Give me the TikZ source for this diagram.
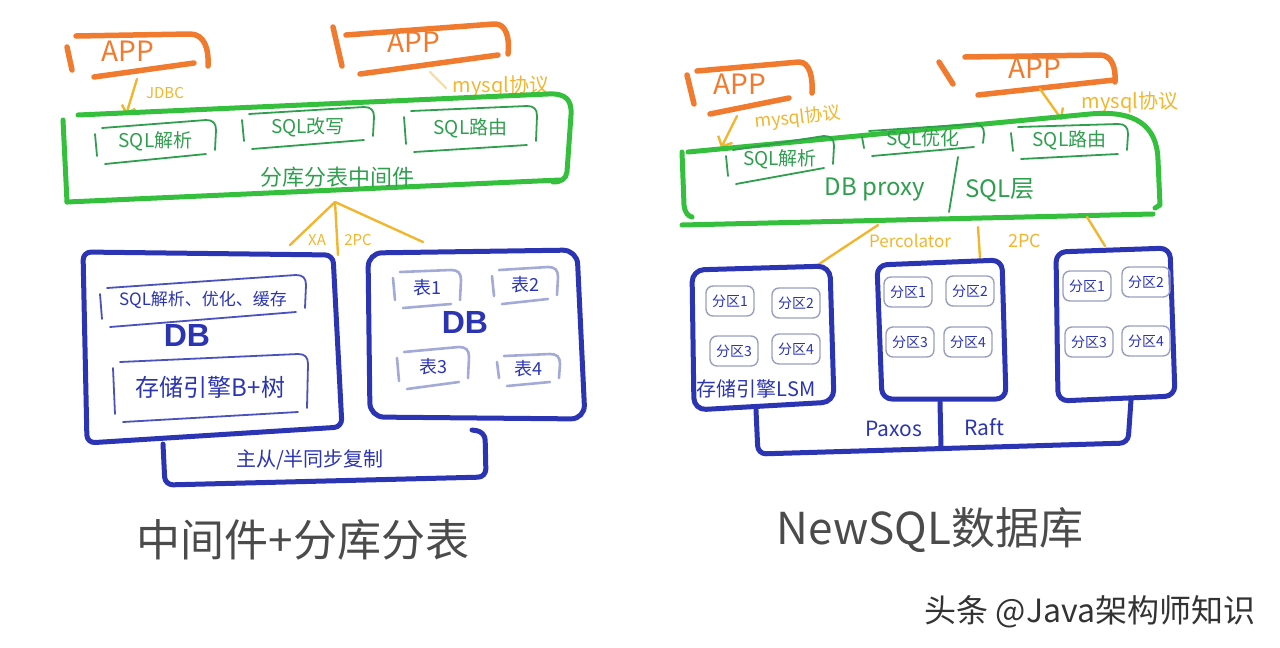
\documentclass[tikz,border=0pt]{standalone}
\usepackage{fontspec}
\setmainfont{Noto Sans CJK SC}
\newfontfamily\latinfont{Liberation Sans}
\usetikzlibrary{arrows.meta}

\definecolor{appcol}{HTML}{F07A2E}
\definecolor{midcol}{HTML}{34C03C}
\definecolor{subcol}{HTML}{2F9E4E}
\definecolor{dbcol}{HTML}{2B34B2}
\definecolor{tabcol}{HTML}{A3AAD8}
\definecolor{linkcol}{HTML}{F2B52E}
\definecolor{titlecol}{HTML}{4B4B4B}

\tikzset{
  appline/.style={draw=appcol, line width=5.5pt},
  applab/.style={text=appcol, font=\fontsize{28}{30}\selectfont},
  midline/.style={draw=midcol, line width=5pt},
  subline/.style={draw=subcol, line width=1.8pt},
  sublab/.style={text=subcol, inner sep=0pt},
  dbline/.style={draw=dbcol, line width=5pt},
  innline/.style={draw=dbcol!85, line width=1.8pt},
  tabline/.style={draw=tabcol, line width=2.6pt},
  dblab/.style={text=dbcol, inner sep=0pt},
  dbbig/.style={text=dbcol, font=\fontsize{32}{34}\latinfont\bfseries\selectfont},
  link/.style={draw=linkcol, line width=2.4pt},
  linklab/.style={text=linkcol, inner sep=0pt},
  part/.style={draw=tabcol!75!gray, line width=1.4pt, rounded corners=7pt,
    minimum width=48pt, minimum height=30pt, inner sep=0pt, text=dbcol,
    font=\fontsize{14}{16}\selectfont},
  caption/.style={text=titlecol, font=\fontsize{44}{48}\selectfont},
}

\begin{document}
\begin{tikzpicture}[x=1pt, y=-1pt, line cap=round, line join=round]

  % ── 画布 1280×648 ──
  \path[use as bounding box] (0,0) rectangle (1280,648);

  % ── 四个 APP：左竖笔 / 上沿带卷边 / 下沿 ──
  \draw[appline] (67,47) -- (72,70);
  \draw[appline] (76,36) -- (190,34) .. controls (204,34) and (209,48) .. (208,66);
  \draw[appline] (94,77) -- (194,63);
  \node[applab] (app1) at (128,51) {APP};

  \draw[appline] (333,27) -- (342,66);
  \draw[appline] (346,35) -- (494,24) .. controls (506,23) and (510,38) .. (508,54);
  \draw[appline] (360,74) -- (498,55);
  \node[applab] (app2) at (414,42) {APP};

  \draw[appline] (687,75) -- (694,104);
  \draw[appline] (697,71) -- (799,62) .. controls (810,62) and (813,78) .. (812,93);
  \draw[appline] (710,114) -- (789,98);
  \node[applab] (app3) at (740,84) {APP};

  \draw[appline] (939,62) -- (953,84);
  \draw[appline] (965,57) -- (1100,55) .. controls (1112,55) and (1116,68) .. (1115,82);
  \draw[appline] (978,95) -- (1114,80);
  \node[applab] (app4) at (1035,68) {APP};

  % ── APP 到中间层的调用 ──
  \coordinate (a1s) at (137,79);  \coordinate (a1e) at (126,115);
  \coordinate (a2s) at (430,72);  \coordinate (a2e) at (446,88);
  \coordinate (a3s) at (737,116); \coordinate (a3e) at (721,148);
  \coordinate (a4s) at (1040,89); \coordinate (a4e) at (1062,120);
  \draw[link, -{Straight Barb[length=7pt]}] (a1s) -- (a1e);
  \draw[link, opacity=.45] (a2s) -- (a2e);
  \draw[link, -{Straight Barb[length=8pt]}] (a3s) -- (a3e);
  \draw[link, -{Straight Barb[length=8pt]}] (a4s) -- (a4e);
  \node[linklab, font=\fontsize{15}{17}\selectfont] (jdbc) at (165,93) {JDBC};
  \node[linklab, font=\fontsize{20}{22}\selectfont] (proto2) at (501,86) {mysql协议};
  \node[linklab, font=\fontsize{18}{20}\selectfont, rotate=6] (proto3) at (798,118) {mysql协议};
  \node[linklab, font=\fontsize{20}{22}\selectfont] (proto4) at (1130,102) {mysql协议};

  % ── 左：分库分表中间件（绿色大框）──
  \draw[midline] (63,120) -- (67,202);
  \draw[midline] (78,115) -- (548,94) .. controls (566,93) and (572,100) .. (571,115)
    -- (567,172) .. controls (566,179) and (561,182) .. (553,182);
  \draw[midline] (67,202) -- (560,180);
  \node[sublab, font=\fontsize{22}{24}\selectfont] (mid1) at (337,177) {分库分表中间件};

  % ── 右：DB proxy / SQL 层（绿色大框）──
  \draw[midline] (682,152) -- (684,205) .. controls (685,213) and (688,216) .. (692,217);
  \draw[midline] (688,152) -- (1090,114) .. controls (1135,110) and (1157,125) .. (1158,160)
    -- (1160,205) -- (1155,208);
  \draw[midline] (682,225) -- (1153,214);
  \draw[subline] (958,157) -- (949,212);
  \node[sublab, font=\fontsize{24}{26}\selectfont] (proxy) at (875,190) {DB proxy};
  \node[sublab, font=\fontsize{24}{26}\selectfont] (sqllayer) at (1000,190) {SQL层};

  % ── 绿色小框（\xl/\yt/\xr/\yb/右侧抬高/文字/名字）──
  \foreach \xl/\yt/\xr/\yb/\dy/\lab/\nm in {%
      95/128/216/162/8/SQL解析/s1,
      242/114/374/147/7/SQL改写/s2,
      404/111/537/150/5/SQL路由/s3,
      726/150/834/182/14/SQL解析/s4,
      862/131/984/154/7/SQL优化/s5,
      1011/127/1128/157/3/SQL路由/s6} {
    \draw[subline] (\xl,\yt+6) -- (\xl+2,\yb-6);
    \draw[subline] (\xl+7,\yt) -- (\xr-10,\yt-\dy) .. controls (\xr-3,\yt-\dy) and (\xr,\yt-\dy+3) .. (\xr,\yt-\dy+10) -- (\xr-1,\yb-\dy-4);
    \draw[subline] (\xl+10,\yb+2) -- (\xr-10,\yb-\dy);
    \node[sublab, font=\fontsize{19}{21}\selectfont] (\nm) at ({(\xl+\xr)/2},{(\yt+\yb-\dy)/2}) {\lab};
  }

  % ── 左：XA / 2PC ──
  \coordinate (f0) at (335,202);
  \coordinate (dbL) at (290,245);
  \coordinate (dbM) at (338,255);
  \coordinate (dbR) at (423,242);
  \foreach \t in {dbL, dbM, dbR}
    \draw[link] (f0) -- (\t);
  \node[linklab, font=\fontsize{15}{17}\selectfont] (xa) at (317,240) {XA};
  \node[linklab, font=\fontsize{15}{17}\selectfont] (tpc1) at (358,240) {2PC};

  % ── 左：两个 DB 与主从复制 ──
  \draw[dbline, rounded corners=8pt] (83,252) -- (333,255) -- (342,427) -- (87,443) -- cycle;
  \draw[dbline, rounded corners=14pt] (368,253) -- (577,250) -- (585,419) -- (370,417) -- cycle;
  \draw[dbline, rounded corners=8pt] (163,444) -- (165,485) -- (486,477) -- (485,432) -- (472,430);
  \node[dblab, font=\fontsize{20}{22}\selectfont] (repl) at (310,460) {主从/半同步复制};
  \node[dbbig] (db1) at (187,335) {DB};
  \node[dbbig] (db2) at (465,322) {DB};

  \foreach \xl/\yt/\xr/\yb/\dy/\lab/\nm/\sz in {%
      100/288/306/325/13/SQL解析、优化、缓存/in1/17,
      113/362/308/420/8/存储引擎B+树/in2/24} {
    \draw[innline] (\xl,\yt+6) -- (\xl+2,\yb-6);
    \draw[innline] (\xl+7,\yt) -- (\xr-10,\yt-\dy) .. controls (\xr-3,\yt-\dy) and (\xr,\yt-\dy+3) .. (\xr,\yt-\dy+10) -- (\xr-1,\yb-\dy-4);
    \draw[innline] (\xl+10,\yb+2) -- (\xr-10,\yb-\dy);
    \node[dblab, font=\fontsize{\sz}{26}\selectfont] (\nm) at ({(\xl+\xr)/2},{(\yt+\yb-\dy)/2}) {\lab};
  }

  \foreach \xl/\yt/\xr/\yb/\dy/\lab/\nm in {%
      393/272/461/306/2/表1/t1,
      492/270/558/302/3/表2/t2,
      397/352/469/387/5/表3/t3,
      497/356/560/384/2/表4/t4} {
    \draw[tabline] (\xl,\yt+6) -- (\xl+2,\yb-6);
    \draw[tabline] (\xl+7,\yt) -- (\xr-10,\yt-\dy) .. controls (\xr-3,\yt-\dy) and (\xr,\yt-\dy+3) .. (\xr,\yt-\dy+10) -- (\xr-1,\yb-\dy-4);
    \draw[tabline] (\xl+10,\yb+2) -- (\xr-10,\yb-\dy);
    \node[dblab, font=\fontsize{18}{20}\selectfont] (\nm) at ({(\xl+\xr)/2},{(\yt+\yb-\dy)/2}) {\lab};
  }

  % ── 右：Percolator / 2PC ──
  \coordinate (g1) at (878,225);  \coordinate (st1) at (813,268);
  \coordinate (g2) at (978,227);  \coordinate (st2) at (980,258);
  \coordinate (g3) at (1087,217); \coordinate (st3) at (1105,246);
  \draw[link] (g1) -- (st1);
  \draw[link] (g2) -- (st2);
  \draw[link] (g3) -- (st3);
  \node[linklab, font=\fontsize{17}{19}\selectfont] (perc) at (910,241) {Percolator};
  \node[linklab, font=\fontsize{18}{20}\selectfont] (tpc2) at (1025,241) {2PC};

  % ── 右：三个存储节点 + Paxos/Raft ──
  \draw[dbline, rounded corners=12pt] (692,270) -- (830,266) -- (834,402) -- (694,410) -- cycle;
  \draw[dbline, rounded corners=10pt] (877,265) -- (1002,260) -- (1006,399) -- (882,399) -- cycle;
  \draw[dbline, rounded corners=10pt] (1056,252) -- (1170,248) -- (1175,396) -- (1058,401) -- cycle;
  \draw[dbline, rounded corners=8pt] (756,410) -- (758,454) -- (1128,443) -- (1131,400);
  \draw[dbline] (940,402) -- (941,447);
  \node[dblab, font=\fontsize{20}{22}\selectfont] (lsm) at (756,389) {存储引擎LSM};
  \node[dblab, font=\fontsize{21}{23}\selectfont] (paxos) at (894,429) {Paxos};
  \node[dblab, font=\fontsize{21}{23}\selectfont] (raft) at (984,427) {Raft};

  \foreach \x/\y/\b/\i in {%
      730/301/1/1, 796/303/1/2, 734/351/1/3, 796/349/1/4,
      908/292/2/1, 970/291/2/2, 910/342/2/3, 968/342/2/4,
      1087/286/3/1, 1146/282/3/2, 1089/342/3/3, 1146/341/3/4}
    \node[part] (p\b\i) at (\x,\y) {分区\i};

  % ── 标题与水印 ──
  \node[caption] (cap1) at (303,540) {中间件+分库分表};
  \node[caption] (cap2) at (930,530) {NewSQL数据库};
  \node[text=black!80, font=\fontsize{32}{34}\selectfont] (mark) at (1090,612) {头条 @Java架构师知识};
\end{tikzpicture}
\end{document}
